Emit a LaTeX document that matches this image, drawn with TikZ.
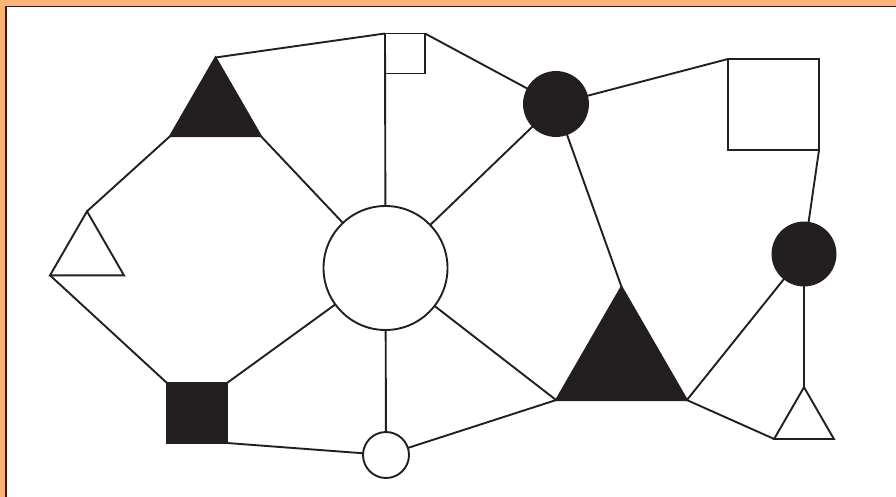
\documentclass[tikz,border=0pt]{standalone}
\usepackage{tikz}
\usetikzlibrary{shapes.geometric}
\definecolor{framebg}{HTML}{FDB278}
\definecolor{ink}{HTML}{231F20}
\begin{document}
\begin{tikzpicture}[
  x=1pt, y=-1pt,
  edge/.style={draw=ink, line width=1.9pt},
  opencirc/.style={circle, draw=ink, fill=white, line width=1.9pt, inner sep=0pt, outer sep=0pt},
  fullcirc/.style={circle, draw=ink, fill=ink, line width=1.9pt, inner sep=0pt, outer sep=0pt},
  opensq/.style={rectangle, draw=ink, fill=white, line width=1.9pt, inner sep=0pt, outer sep=0pt},
  fullsq/.style={rectangle, draw=ink, fill=ink, line width=1.9pt, inner sep=0pt, outer sep=0pt},
  opentri/.style={regular polygon, regular polygon sides=3, draw=ink, fill=white, line width=1.9pt, inner sep=0pt, outer sep=0pt},
  fulltri/.style={regular polygon, regular polygon sides=3, draw=ink, fill=ink, line width=1.9pt, inner sep=0pt, outer sep=0pt},
]
\useasboundingbox (0,0) rectangle (896,497);
% Frame
\fill[framebg] (0,0) rectangle (896,497);
\fill[white] (6,6.5) rectangle (896,497);
\draw[ink, line width=1.5pt] (6,497) -- (6,6.5) -- (896,6.5);

% Nodes
\node[fulltri, minimum size=105pt] (toptri) at (215.5,110) {};
\node[opentri, minimum size=85.4pt] (lefttri) at (87,254) {};
\node[fulltri, minimum size=151pt] (bigtri) at (621.5,362.3) {};
\node[opentri, minimum size=69pt] (smalltri) at (804,421.7) {};
\node[opensq, minimum size=40pt] (smallsq) at (405,53.5) {};
\node[opensq, minimum size=91pt] (bigsq) at (773.5,104.5) {};
\node[fullsq, minimum size=60pt] (blacksq) at (197,413) {};
\node[opencirc, minimum size=124pt] (hub) at (385.5,268) {};
\node[fullcirc, minimum size=64pt] (dotA) at (556,104) {};
\node[fullcirc, minimum size=63pt] (dotB) at (804,254) {};
\node[opencirc, minimum size=46pt] (smallcirc) at (386,455) {};

% Edges
\draw[edge] (toptri.corner 1) -- (smallsq.north west);
\draw[edge] (smallsq.north west) -- (hub);
\draw[edge] (smallsq.north east) -- (dotA);
\draw[edge] (dotA) -- (bigsq.north west);
\draw[edge] (bigsq.south east) -- (dotB);
\draw[edge] (dotB) -- (smalltri.corner 1);
\draw[edge] (dotB) -- (bigtri.corner 3);
\draw[edge] (bigtri.corner 3) -- (smalltri.corner 2);
\draw[edge] (dotA) -- (bigtri.corner 1);
\draw[edge] (dotA) -- (hub);
\draw[edge] (hub) -- (bigtri.corner 2);
\draw[edge] (hub) -- (smallcirc);
\draw[edge] (smallcirc) -- (bigtri.corner 2);
\draw[edge] (smallcirc) -- (blacksq.south east);
\draw[edge] (blacksq.north east) -- (hub);
\draw[edge] (blacksq.north west) -- (lefttri.corner 2);
\draw[edge] (lefttri.corner 1) -- (toptri.corner 2);
\draw[edge] (toptri.corner 3) -- (hub);
\end{tikzpicture}
\end{document}
